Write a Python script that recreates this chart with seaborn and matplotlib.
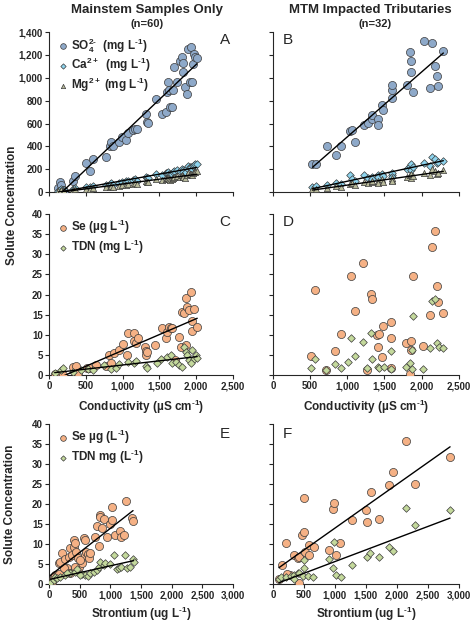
import numpy as np
import matplotlib
matplotlib.use('Agg')
import matplotlib.pyplot as plt
from matplotlib.ticker import FuncFormatter, MultipleLocator
import seaborn as sns

# ---- data ----
# Panel A: mainstem samples, conductivity vs major ions
cond_a = [123, 145, 159, 191, 210, 327, 350, 509, 555, 600, 773, 827, 836, 873, 955, 986,
          1045, 1077, 1136, 1168, 1191, 1318, 1327, 1350, 1450, 1532, 1586, 1600, 1623, 1636,
          1645, 1668, 1691, 1700, 1745, 1782, 1805, 1814, 1827, 1850, 1873, 1895, 1918, 1927,
          1941, 1955, 1964, 1986, 2009]
so4_a = [35, 84, 60, 20, 10, 93, 136, 252, 180, 287, 310, 403, 440, 403, 440, 484,
         455, 513, 542, 556, 548, 687, 614, 606, 817, 687, 701, 875, 962, 890,
         745, 745, 890, 1093, 962, 1151, 1180, 1128, 1049, 919, 861, 1252, 962, 1267,
         962, 1122, 1209, 1180, 1174]
ca_a = [12, 20, 25, 15, 18, 30, 35, 45, 40, 55, 60, 70, 75, 65, 80, 85,
        95, 100, 105, 110, 98, 130, 120, 125, 160, 150, 165, 170, 175, 160,
        150, 158, 172, 185, 190, 180, 200, 195, 175, 170, 210, 230, 220, 215,
        200, 225, 240, 245, 248]
mg_a = [8, 12, 15, 10, 12, 20, 25, 30, 28, 38, 42, 48, 52, 45, 55, 60,
        65, 68, 72, 78, 70, 95, 88, 90, 115, 105, 112, 120, 125, 115,
        105, 112, 125, 135, 140, 130, 145, 140, 130, 125, 150, 165, 160, 155,
        145, 165, 175, 178, 180]

# Panel B: MTM impacted tributaries, conductivity vs major ions
cond_b = [532, 576, 723, 851, 918, 1033, 1064, 1104, 1219, 1277, 1330, 1339, 1410, 1410,
          1463, 1485, 1596, 1596, 1596, 1804, 1849, 1862, 1862, 1884, 2030, 2137, 2114,
          2186, 2208, 2217, 2292]
so4_b = [243, 243, 403, 325, 403, 533, 542, 435, 585, 606, 643, 672, 643, 585,
         759, 716, 823, 896, 939, 939, 1223, 1145, 1049, 875, 1319, 1301, 913,
         1107, 1020, 925, 1232]
ca_b = [40, 49, 60, 78, 70, 151, 110, 100, 151, 120, 130, 115, 151, 130,
        159, 140, 150, 165, 130, 200, 225, 243, 190, 215, 250, 310, 230,
        290, 258, 260, 275]
mg_b = [25, 30, 35, 50, 45, 70, 80, 60, 90, 75, 85, 95, 100, 80,
        110, 90, 105, 120, 95, 130, 150, 160, 125, 140, 170, 200, 150,
        180, 160, 165, 190]

# Panel C: mainstem, conductivity vs Se and TDN
cond_c_se = [77, 167, 189, 324, 369, 392, 518, 550, 640, 775, 820, 842, 887, 955, 1000,
             1059, 1068, 1149, 1158, 1180, 1203, 1302, 1315, 1324, 1338, 1437, 1541, 1586,
             1608, 1631, 1653, 1676, 1707, 1766, 1788, 1811, 1833, 1856, 1878, 1901, 1923,
             1946, 1968, 1946, 2014, 1856]
se_c = [0.2, 0.6, 0.0, 2.1, 2.3, 0.4, 1.8, 1.8, 2.5, 2.3, 5.1, 2.9, 5.4, 6.2, 7.6,
        5.1, 10.5, 8.5, 10.5, 7.9, 9.1, 7.0, 6.0, 5.1, 5.8, 7.5, 11.6, 9.1,
        10.8, 12.0, 11.6, 11.7, 3.7, 9.5, 7.0, 15.7, 15.3, 19.1, 17.0, 16.2, 20.7,
        13.4, 16.4, 10.9, 12.0, 7.5]
cond_c_tdn = [77, 167, 189, 324, 437, 527, 595, 752, 842, 910, 955, 1068, 1158, 1180, 1315,
              1338, 1473, 1518, 1608, 1653, 1676, 1721, 1766, 1811, 1833, 1856, 1878, 1901,
              1946, 1968, 1991, 2014, 1923]
tdn_c = [0.4, 1.2, 1.8, 0.8, 1.2, 1.5, 1.2, 2.5, 1.5, 1.7, 2.7, 3.3, 2.9, 3.5, 2.3,
         1.8, 2.9, 4.1, 4.6, 5.1, 2.9, 3.3, 2.5, 2.1, 7.0, 5.8, 5.0, 3.7,
         6.2, 4.1, 5.0, 4.3, 2.9]

# Panel D: tributaries, conductivity vs Se and TDN
cond_d_se = [514, 568, 718, 841, 909, 1045, 1100, 1209, 1264, 1318, 1327, 1395, 1409, 1432,
             1464, 1482, 1582, 1591, 1582, 1795, 1855, 1855, 1841, 1886, 2023, 2114, 2136,
             2182, 2205, 2218, 2286]
se_d = [4.7, 21.1, 1.2, 6.0, 10.1, 24.6, 15.9, 27.9, 1.2, 20.1, 18.9, 9.9, 7.0, 10.1,
        4.6, 12.2, 13.1, 9.1, 1.7, 8.0, 8.5, 6.2, 0.2, 24.6, 7.2, 14.9, 31.7,
        35.8, 22.1, 18.2, 15.5]
cond_d_tdn = [514, 568, 718, 841, 909, 1014, 1055, 1100, 1209, 1264, 1318, 1327, 1409, 1432,
              1491, 1591, 1591, 1795, 1841, 1873, 1886, 2023, 2114, 2136, 2182, 2205, 2227,
              2286, 1864]
tdn_d = [1.7, 3.9, 1.2, 2.7, 1.8, 3.3, 9.1, 4.7, 8.3, 1.7, 10.5, 3.9, 2.1, 1.8,
         2.1, 6.0, 1.5, 2.1, 2.9, 1.5, 14.7, 1.5, 6.8, 18.4, 18.9, 7.9, 7.0,
         6.8, 6.2]

# Panel E: mainstem, strontium vs Se and TDN
sr_e_se = [22, 49, 65, 76, 103, 130, 158, 158, 185, 212, 266, 293, 321, 348, 375, 402,
           413, 429, 446, 467, 484, 538, 565, 582, 592, 609, 630, 647, 674, 755, 782,
           810, 826, 837, 864, 891, 946, 990, 1027, 1027, 1082, 1163, 1174, 1217, 1261,
           1354, 1370, 239, 348, 429, 511]
se_e = [0.2, 0.6, 1.2, 1.8, 2.3, 2.0, 2.5, 5.3, 5.6, 7.7, 6.2, 3.9, 6.8, 9.1, 7.3, 9.3,
        11.0, 10.2, 8.1, 6.6, 4.3, 5.2, 11.6, 11.0, 7.3, 8.1, 7.4, 6.6, 7.7, 11.8, 14.5,
        9.5, 17.3, 16.8, 13.9, 16.3, 11.8, 14.9, 19.2, 16.0, 12.3, 13.3, 11.8, 12.3, 20.8,
        16.6, 15.8, 3.9, 2.7, 4.3, 6.0]
sr_e_tdn = [22, 76, 103, 130, 185, 266, 348, 429, 456, 538, 592, 630, 674, 728, 782, 810,
            837, 891, 918, 1000, 1065, 1109, 1136, 1174, 1245, 1272, 1326, 1370, 1380, 511,
            293]
tdn_e = [0.3, 1.0, 1.8, 1.4, 1.8, 2.3, 2.7, 3.1, 3.7, 2.5, 2.3, 2.0, 2.7, 3.1, 3.5, 4.3,
         5.6, 4.8, 5.2, 5.0, 7.3, 3.7, 4.1, 4.3, 7.3, 4.1, 4.3, 6.2, 5.6, 2.3,
         2.8]

# Panel F: tributaries, strontium vs Se and TDN
sr_f_se = [152, 207, 277, 342, 397, 424, 413, 462, 495, 505, 522, 587, 587, 658, 913, 967,
           978, 1011, 1087, 1283, 1495, 1511, 1576, 1712, 1880, 1935, 2147, 2299, 2859,
           98, 234]
se_f = [4.75, 10.2, 2.3, 7.25, 6.4, 6.7, 0.2, 12.3, 13.1, 21.4, 8.1, 9.75, 7.25, 9.3, 8.5,
        18.8, 20.3, 7.25, 10.2, 16.0, 18.5, 15.6, 22.9, 16.25, 24.75, 28.1, 35.8, 24.9,
        31.8, 1.2, 2.5]
sr_f_tdn = [98, 125, 207, 288, 342, 397, 424, 478, 505, 505, 560, 641, 913, 967, 978, 1021,
            1092, 1283, 1511, 1565, 1712, 1880, 1945, 2147, 2299, 2859, 342]
tdn_f = [1.2, 1.7, 1.8, 2.0, 2.25, 2.7, 2.8, 2.0, 3.9, 6.0, 2.0, 1.7, 6.2, 3.9, 10.6, 2.25,
         1.7, 4.75, 6.8, 7.8, 6.8, 9.2, 8.3, 19.1, 14.75, 18.5, 1.2]

# colours
C_SO4 = '#8EA9C9'
C_CA = '#8ED4EE'
C_MG = '#B8BA9A'
C_SE = '#F5B185'
C_TDN = '#C4D99C'
EDGE = '#3A3A3A'

sns.set_style('ticks')
plt.rcParams['font.family'] = ['Liberation Sans', 'DejaVu Sans']
plt.rcParams['font.weight'] = 'bold'
plt.rcParams['mathtext.fontset'] = 'custom'
plt.rcParams['mathtext.rm'] = 'Liberation Sans:bold'
plt.rcParams['mathtext.it'] = 'Liberation Sans:bold'
plt.rcParams['mathtext.bf'] = 'Liberation Sans:bold'
plt.rcParams['mathtext.default'] = 'rm'


def scatter(ax, x, y, color, marker, size, label=None):
    sns.scatterplot(x=x, y=y, ax=ax, color=color, marker=marker, s=size,
                    edgecolor=EDGE, linewidth=0.5, label=label, zorder=3)


def trend(ax, x, y):
    sns.regplot(x=np.array(x), y=np.array(y), ax=ax, scatter=False, ci=None,
                color='black', line_kws={'linewidth': 1.0, 'zorder': 4})


def style_axis(ax, xmax, xstep, ymax, ystep, xlabels=True, ylabels=True):
    ax.set_xlim(0, xmax)
    ax.set_ylim(0, ymax)
    ax.xaxis.set_major_locator(MultipleLocator(xstep))
    ax.yaxis.set_major_locator(MultipleLocator(ystep))
    fmt = FuncFormatter(lambda v, p: '{:,.0f}'.format(v))
    ax.xaxis.set_major_formatter(fmt)
    ax.yaxis.set_major_formatter(fmt)
    ax.tick_params(labelsize=7, length=3, width=0.8, pad=1.5,
                   labelbottom=xlabels, labelleft=ylabels)
    for lab in ax.get_xticklabels() + ax.get_yticklabels():
        lab.set_fontweight('bold')
    ax.set_xlabel('')
    ax.set_ylabel('')
    sns.despine(ax=ax)
    for sp in ax.spines.values():
        sp.set_linewidth(0.8)


def add_legend(ax, y_top):
    ax.legend(loc='upper left', bbox_to_anchor=(0.0, y_top), frameon=False,
              fontsize=8.5, handletextpad=0.1, labelspacing=0.12, borderaxespad=0.2,
              handlelength=1.2, markerscale=0.7)


def letter(ax, s, x, y):
    ax.text(x, y, s, transform=ax.transAxes, fontsize=11, fontweight='normal',
            ha='center', va='center')


fig = plt.figure(figsize=(4.73, 6.22), dpi=100)
lx, lw = 0.1036, 0.389
rx, rw = 0.577, 0.393
ax_a = fig.add_axes([lx, 0.6913, lw, 0.257])
ax_b = fig.add_axes([rx, 0.6913, rw, 0.257])
ax_c = fig.add_axes([lx, 0.397, lw, 0.259])
ax_d = fig.add_axes([rx, 0.397, rw, 0.259])
ax_e = fig.add_axes([lx, 0.0611, lw, 0.257])
ax_f = fig.add_axes([rx, 0.0611, rw, 0.257])

# A
scatter(ax_a, cond_a, so4_a, C_SO4, 'o', 34, r'SO$_4^{2\text{-}}$  (mg L$^{\text{-}1}$)')
scatter(ax_a, cond_a, ca_a, C_CA, 'D', 15, r'Ca$^{2+}$  (mg L$^{\text{-}1}$)')
scatter(ax_a, cond_a, mg_a, C_MG, '^', 20, r'Mg$^{2+}$ (mg L$^{\text{-}1}$)')
trend(ax_a, cond_a, so4_a)
trend(ax_a, cond_a, ca_a)
trend(ax_a, cond_a, mg_a)
style_axis(ax_a, 2500, 500, 1400, 200, xlabels=False)
add_legend(ax_a, 1.02)
letter(ax_a, 'A', 0.957, 0.95)

# B
scatter(ax_b, cond_b, so4_b, C_SO4, 'o', 34)
scatter(ax_b, cond_b, ca_b, C_CA, 'D', 15)
scatter(ax_b, cond_b, mg_b, C_MG, '^', 20)
trend(ax_b, cond_b, so4_b)
trend(ax_b, cond_b, ca_b)
trend(ax_b, cond_b, mg_b)
style_axis(ax_b, 2500, 500, 1400, 200, xlabels=False, ylabels=False)
letter(ax_b, 'B', 0.08, 0.95)

# C
scatter(ax_c, cond_c_se, se_c, C_SE, 'o', 34, r'Se (µg L$^{\text{-}1}$)')
scatter(ax_c, cond_c_tdn, tdn_c, C_TDN, 'D', 15, r'TDN (mg L$^{\text{-}1}$)')
trend(ax_c, cond_c_se, se_c)
trend(ax_c, cond_c_tdn, tdn_c)
style_axis(ax_c, 2500, 500, 40, 5)
add_legend(ax_c, 1.02)
letter(ax_c, 'C', 0.957, 0.95)
ax_c.set_xlabel(r'Conductivity (µS cm$^{\text{-}1}$)', fontsize=8.5, fontweight='bold', labelpad=5)

# D
scatter(ax_d, cond_d_se, se_d, C_SE, 'o', 34)
scatter(ax_d, cond_d_tdn, tdn_d, C_TDN, 'D', 15)
style_axis(ax_d, 2500, 500, 40, 5, ylabels=False)
letter(ax_d, 'D', 0.08, 0.95)
ax_d.set_xlabel(r'Conductivity (µS cm$^{\text{-}1}$)', fontsize=8.5, fontweight='bold', labelpad=5)

# E
scatter(ax_e, sr_e_se, se_e, C_SE, 'o', 34, r'Se µg (L$^{\text{-}1}$)')
scatter(ax_e, sr_e_tdn, tdn_e, C_TDN, 'D', 15, r'TDN mg (L$^{\text{-}1}$)')
trend(ax_e, sr_e_se, se_e)
trend(ax_e, sr_e_tdn, tdn_e)
style_axis(ax_e, 3000, 500, 40, 5)
add_legend(ax_e, 1.02)
letter(ax_e, 'E', 0.957, 0.94)
ax_e.set_xlabel(r'Strontium (ug L$^{\text{-}1}$)', fontsize=8.5, fontweight='bold', labelpad=3)

# F
scatter(ax_f, sr_f_se, se_f, C_SE, 'o', 34)
scatter(ax_f, sr_f_tdn, tdn_f, C_TDN, 'D', 15)
trend(ax_f, sr_f_se, se_f)
trend(ax_f, sr_f_tdn, tdn_f)
style_axis(ax_f, 3000, 500, 40, 5, ylabels=False)
letter(ax_f, 'F', 0.08, 0.94)
ax_f.set_xlabel(r'Strontium (ug L$^{\text{-}1}$)', fontsize=8.5, fontweight='bold', labelpad=3)

# column titles and shared y labels
fig.text(147 / 473, 1 - 10 / 622, 'Mainstem Samples Only', ha='center', va='center',
         fontsize=9.5, fontweight='bold')
fig.text(147 / 473, 1 - 24 / 622, '(n=60)', ha='center', va='center',
         fontsize=8, fontweight='bold')
fig.text(370 / 473, 1 - 10 / 622, 'MTM Impacted Tributaries', ha='center', va='center',
         fontsize=9.5, fontweight='bold')
fig.text(375 / 473, 1 - 24 / 622, '(n=32)', ha='center', va='center',
         fontsize=8, fontweight='bold')
fig.text(12 / 473, 1 - 205 / 622, 'Solute Concentration', rotation=90, ha='center',
         va='center', fontsize=8.5, fontweight='bold')
fig.text(10 / 473, 1 - 504 / 622, 'Solute Concentration', rotation=90, ha='center',
         va='center', fontsize=8.5, fontweight='bold')

fig.savefig('out.png', dpi=100)
